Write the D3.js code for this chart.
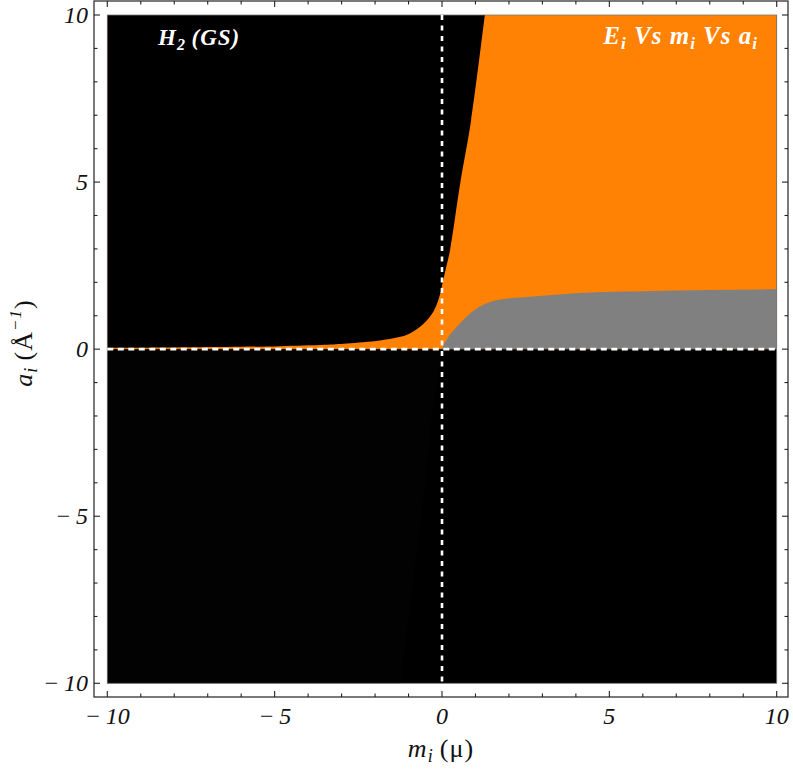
<!DOCTYPE html>
<html><head><meta charset="utf-8">
<script src="https://cdn.jsdelivr.net/npm/d3@7"></script>
<style>body{margin:0;background:#fff}svg{display:block}</style>
</head><body>
<script>
// ---- data ----
const xDomain = [-10, 10];
const yDomain = [-10, 10];
const majorTicks = [-10, -5, 0, 5, 10];
const minorTicks = d3.range(-10, 10.01, 1);
const tickLabels = ["\u2212\u200910", "\u2212\u20095", "0", "5", "10"];
// orange/black boundary a(m)
const orangeBoundary = [[-10,0.04],[-8,0.05],[-6,0.07],[-4.84,0.09],[-3.5,0.13],[-2.85,0.17],[-1.85,0.26],[-1.25,0.37],[-0.96,0.47],[-0.56,0.75],[-0.26,1.12],[-0.1,1.5],[0,1.9],[0.1,2.35],[0.24,2.96],[0.55,5.0],[0.87,6.85],[1.28,10]];
// gray/orange boundary a(m)
const grayBoundary = [[0,0],[0.04,0.1],[0.2,0.38],[0.44,0.67],[0.84,1.07],[1.33,1.37],[2.03,1.52],[2.63,1.57],[4.12,1.68],[6,1.73],[8,1.77],[10,1.79]];
// faint dark region (lower-left) boundary m(a)
const darkBoundary = [[0,0],[-0.3,-2],[-0.57,-4.7],[-0.9,-7.3],[-1.25,-10]];
const titleLeft = "H";
const titleRight = ["E","i"," Vs ","m","i"," Vs ","a","i"];
const colors = {orange:"#ff8204", gray:"#808080", black:"#000000", dark:"#030202"};

// ---- layout ----
const W = 793, H = 770;
const plot = {x0:107.3, x1:776.7, y0:15, y1:683.3};
const frame = {x0:94, x1:788, y0:1, y1:697};
const x = d3.scaleLinear().domain(xDomain).range([plot.x0, plot.x1]);
const y = d3.scaleLinear().domain(yDomain).range([plot.y1, plot.y0]);

const svg = d3.select("body").append("svg").attr("width", W).attr("height", H);
const font = "'Liberation Serif','Times New Roman',serif";

// background black
svg.append("rect").attr("x", plot.x0).attr("y", plot.y0)
  .attr("width", plot.x1-plot.x0).attr("height", plot.y1-plot.y0).attr("fill", colors.black);

// dark lower-left region
const darkPoly = [[xDomain[0],0]].concat(darkBoundary).concat([[xDomain[0],yDomain[0]]]);
svg.append("path").attr("d", d3.line().x(d=>x(d[0])).y(d=>y(d[1]))(darkPoly)).attr("fill", colors.dark);

// upper half orange
svg.append("rect").attr("x", x(xDomain[0])).attr("y", y(yDomain[1]))
  .attr("width", x(xDomain[1])-x(xDomain[0])).attr("height", y(0)-y(yDomain[1])).attr("fill", colors.orange);
// black above boundary
svg.append("path")
  .attr("d", d3.area().x(d=>x(d[0])).y0(y(yDomain[1])).y1(d=>y(d[1])).curve(d3.curveCatmullRom.alpha(0.5))(orangeBoundary))
  .attr("fill", colors.black);
// gray region
svg.append("path")
  .attr("d", d3.area().x(d=>x(d[0])).y0(y(0)).y1(d=>y(d[1])).curve(d3.curveMonotoneX)(grayBoundary))
  .attr("fill", colors.gray);

// plot edge
svg.append("rect").attr("x", plot.x0).attr("y", plot.y0)
  .attr("width", plot.x1-plot.x0).attr("height", plot.y1-plot.y0)
  .attr("fill","none").attr("stroke","#777").attr("stroke-width",0.8);

// dashed axes
svg.append("line").attr("x1", x(0)).attr("x2", x(0)).attr("y1", plot.y0).attr("y2", plot.y1)
  .attr("stroke","#fff").attr("stroke-width",2.6).attr("stroke-dasharray","5,5.5");
svg.append("line").attr("x1", plot.x0).attr("x2", plot.x1).attr("y1", y(0)).attr("y2", y(0))
  .attr("stroke","#fff").attr("stroke-width",2.6).attr("stroke-dasharray","6,4.5");

// frame
svg.append("rect").attr("x", frame.x0).attr("y", frame.y0)
  .attr("width", frame.x1-frame.x0).attr("height", frame.y1-frame.y0)
  .attr("fill","none").attr("stroke","#222").attr("stroke-width",1.2);

// ticks
const tg = svg.append("g").attr("stroke","#222").attr("stroke-width",1.1);
minorTicks.forEach(v => {
  const major = majorTicks.includes(v);
  const L = major ? 6 : 3.5;
  tg.append("line").attr("x1", x(v)).attr("x2", x(v)).attr("y1", frame.y1).attr("y2", frame.y1-L);
  tg.append("line").attr("x1", x(v)).attr("x2", x(v)).attr("y1", frame.y0).attr("y2", frame.y0+L);
  tg.append("line").attr("y1", y(v)).attr("y2", y(v)).attr("x1", frame.x0).attr("x2", frame.x0+L);
  tg.append("line").attr("y1", y(v)).attr("y2", y(v)).attr("x1", frame.x1).attr("x2", frame.x1-L);
});

// tick labels
majorTicks.forEach((v,i) => {
  svg.append("text").attr("x", x(v)).attr("y", 724).attr("text-anchor","middle")
    .attr("font-family", font).attr("font-style","italic").attr("font-size",24).attr("fill","#111")
    .text(tickLabels[i]);
  svg.append("text").attr("x", 88).attr("y", y(v)+8).attr("text-anchor","end")
    .attr("font-family", font).attr("font-style","italic").attr("font-size",24).attr("fill","#111")
    .text(tickLabels[i]);
});

// x label
const xl = svg.append("text").attr("x", 441).attr("y", 757).attr("text-anchor","middle")
  .attr("font-family", font).attr("font-size",26).attr("letter-spacing",1).attr("fill","#111");
xl.append("tspan").attr("font-style","italic").text("m");
xl.append("tspan").attr("font-style","italic").attr("font-size",18).attr("dy",5).text("i");
xl.append("tspan").attr("dy",-5).text("\u2009(\u03bc)");

// y label
const yl = svg.append("text").attr("transform","translate(32,343) rotate(-90)").attr("text-anchor","middle")
  .attr("font-family", font).attr("font-size",26).attr("letter-spacing",1).attr("fill","#111");
yl.append("tspan").attr("font-style","italic").text("a");
yl.append("tspan").attr("font-style","italic").attr("font-size",18).attr("dy",5).text("i");
yl.append("tspan").attr("dy",-5).text("\u2009(\u00c5");
yl.append("tspan").attr("font-style","italic").attr("font-size",17).attr("dy",-11).text("\u22121");
yl.append("tspan").attr("dy",11).text(")");

// titles
const t1 = svg.append("text").attr("x", 158).attr("y", 45)
  .attr("font-family", font).attr("font-size",23).attr("letter-spacing",1).attr("font-weight","bold").attr("font-style","italic").attr("fill","#fff");
t1.append("tspan").text(titleLeft);
t1.append("tspan").attr("font-size",16).attr("dy",5).text("2");
t1.append("tspan").attr("dy",-5).text("\u2009(GS)");

const t2 = svg.append("text").attr("x", 758).attr("y", 44).attr("text-anchor","end")
  .attr("font-family", font).attr("font-size",25).attr("letter-spacing",1).attr("font-weight","bold").attr("font-style","italic").attr("fill","#fff");
let sub = false;
titleRight.forEach((s,i) => {
  const isSub = (s === "i");
  const ts = t2.append("tspan").text(s);
  if (isSub) { ts.attr("font-size",17).attr("dy",5); sub = true; }
  else if (sub) { ts.attr("dy",-5); sub = false; }
});
</script>
</body></html>
